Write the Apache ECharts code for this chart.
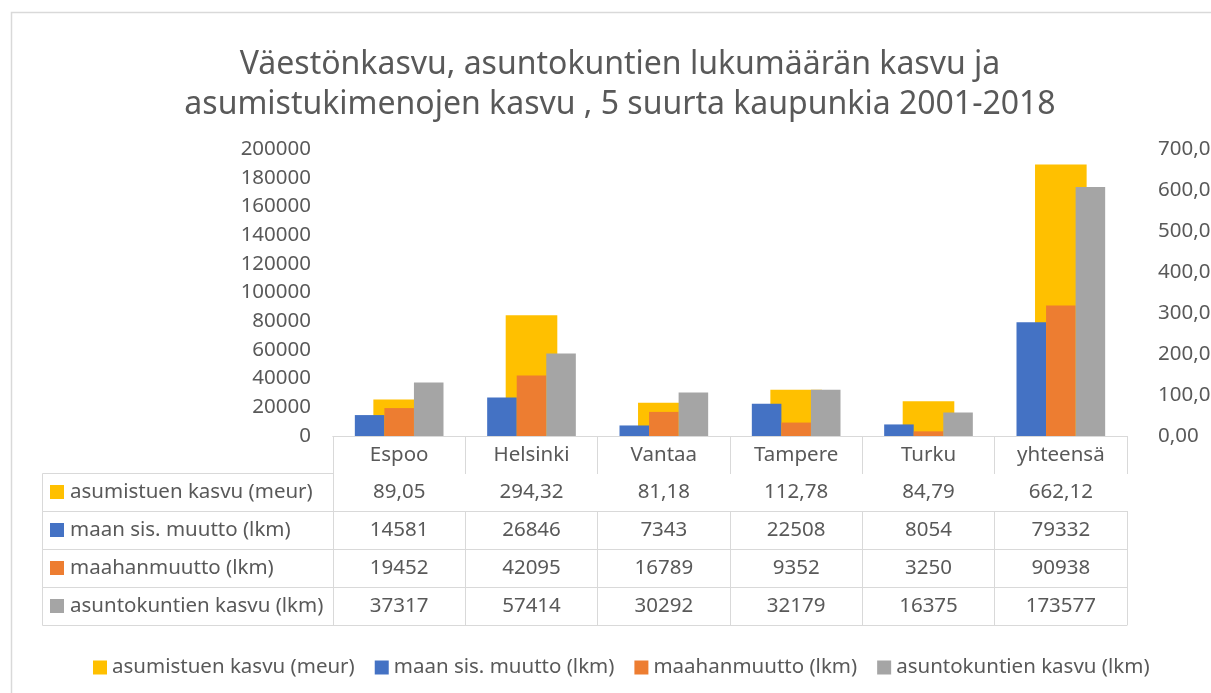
<!DOCTYPE html>
<html>
<head>
<meta charset="utf-8">
<script src="https://cdn.jsdelivr.net/npm/echarts@6/dist/echarts.min.js"></script>
<style>
  html, body { margin: 0; padding: 0; background: #fff; overflow: hidden; }
  #chart { width: 1211px; height: 693px; }
</style>
</head>
<body>
<div id="chart"></div>
<script>
const categories = ['Espoo', 'Helsinki', 'Vantaa', 'Tampere', 'Turku', 'yhteensä'];
const asumistuki = [89.05, 294.32, 81.18, 112.78, 84.79, 662.12];   // meur, right axis
const maanSisMuutto = [14581, 26846, 7343, 22508, 8054, 79332];
const maahanmuutto = [19452, 42095, 16789, 9352, 3250, 90938];
const asuntokunnat = [37317, 57414, 30292, 32179, 16375, 173577];

const seriesNames = ['asumistuen kasvu (meur)', 'maan sis. muutto (lkm)', 'maahanmuutto (lkm)', 'asuntokuntien kasvu (lkm)'];
const colors = ['#FFC000', '#4472C4', '#ED7D31', '#A5A5A5'];

const leftAxis = { min: 0, max: 200000, interval: 20000 };
const rightAxis = { min: 0, max: 700, interval: 100 };

// layout
const FONT = '"Noto Sans", "Open Sans", sans-serif';
const TXT = '#595959';
const LINE = '#d9d9d9';
const GRID = { left: 333, right: 84, top: 149, bottom: 257 };
const HEAD_H = 37;
const ROW_H = 38;
const TABLE_LEFT = 42;
const GRID_BOTTOM_Y = 693 - GRID.bottom;

const fmtDec = v => v.toFixed(2).replace('.', ',');
const fmtInt = v => String(v);

const tableRows = [
  { values: asumistuki, fmt: fmtDec },
  { values: maanSisMuutto, fmt: fmtInt },
  { values: maahanmuutto, fmt: fmtInt },
  { values: asuntokunnat, fmt: fmtInt }
];

function rowAxis(offset, tickLen, values, fmt) {
  return {
    type: 'category',
    data: categories,
    position: 'bottom',
    offset: offset,
    axisLine: { show: true, lineStyle: { color: LINE, width: 1 } },
    axisTick: { show: tickLen > 0, interval: 0, length: tickLen, lineStyle: { color: LINE, width: 1 } },
    axisLabel: {
      show: !!values,
      interval: 0,
      margin: 9,
      fontSize: 20.5,
      fontFamily: FONT,
      color: TXT,
      formatter: (v, i) => values ? fmt(values[i]) : ''
    },
    splitLine: { show: false }
  };
}

// header row (city names) + one axis per table row + closing line
const xAxes = [rowAxis(0, HEAD_H, categories, v => v)];
tableRows.forEach((r, i) => {
  xAxes.push(rowAxis(HEAD_H + ROW_H * i, ROW_H, r.values, r.fmt));
});
xAxes.push(rowAxis(HEAD_H + ROW_H * tableRows.length, 0, null, null));

// left column of the data table
const graphics = [{
  type: 'rect',
  shape: { x: 11.5, y: 12.5, width: 1400, height: 900 },
  style: { fill: 'none', stroke: LINE, lineWidth: 1.5 },
  silent: true
}];
seriesNames.forEach((name, i) => {
  const y0 = GRID_BOTTOM_Y + HEAD_H + ROW_H * i;
  graphics.push({
    type: 'rect',
    shape: { x: TABLE_LEFT + 0.5, y: y0 + 0.5, width: GRID.left - TABLE_LEFT, height: ROW_H },
    style: { fill: 'none', stroke: LINE, lineWidth: 1 },
    silent: true
  });
  graphics.push({
    type: 'rect',
    shape: { x: 50, y: y0 + ROW_H / 2 - 7, width: 14, height: 14 },
    style: { fill: colors[i] },
    silent: true
  });
  graphics.push({
    type: 'text',
    x: 70,
    y: y0 + ROW_H / 2,
    style: { text: name, fill: TXT, fontSize: 20.5, fontFamily: FONT, verticalAlign: 'middle' },
    silent: true
  });
});

const chart = echarts.init(document.getElementById('chart'));
chart.setOption({
  animation: false,
  backgroundColor: '#fff',
  title: {
    text: 'Väestönkasvu, asuntokuntien lukumäärän kasvu ja\nasumistukimenojen kasvu , 5 suurta kaupunkia 2001-2018',
    left: 615,
    top: 40,
    textAlign: 'center',
    textStyle: { fontSize: 32, fontWeight: 'normal', color: TXT, fontFamily: FONT, lineHeight: 40 }
  },
  legend: {
    data: seriesNames,
    left: 88,
    top: 652,
    icon: 'rect',
    itemWidth: 14,
    itemHeight: 14,
    itemGap: 20,
    textStyle: { fontSize: 20.5, color: TXT, fontFamily: FONT }
  },
  grid: Object.assign({ containLabel: false, outerBoundsMode: 'none' }, GRID),
  xAxis: xAxes,
  yAxis: [
    {
      type: 'value',
      min: leftAxis.min, max: leftAxis.max, interval: leftAxis.interval,
      axisLine: { show: false }, axisTick: { show: false }, splitLine: { show: false },
      axisLabel: { margin: 22, fontSize: 20.5, color: TXT, fontFamily: FONT, formatter: fmtInt }
    },
    {
      type: 'value',
      position: 'right',
      min: rightAxis.min, max: rightAxis.max, interval: rightAxis.interval,
      axisLine: { show: false }, axisTick: { show: false }, splitLine: { show: false },
      axisLabel: { margin: 31, fontSize: 20.5, color: TXT, fontFamily: FONT, formatter: fmtDec }
    }
  ],
  graphic: graphics,
  series: [
    {
      name: seriesNames[0], type: 'bar', data: asumistuki,
      xAxisIndex: 1, yAxisIndex: 1, barWidth: '39%', z: 1,
      itemStyle: { color: colors[0] }
    },
    {
      name: seriesNames[1], type: 'bar', data: maanSisMuutto,
      xAxisIndex: 0, yAxisIndex: 0, barGap: '0%', barCategoryGap: '33%', z: 3,
      itemStyle: { color: colors[1] }
    },
    {
      name: seriesNames[2], type: 'bar', data: maahanmuutto,
      xAxisIndex: 0, yAxisIndex: 0, barGap: '0%', barCategoryGap: '33%', z: 3,
      itemStyle: { color: colors[2] }
    },
    {
      name: seriesNames[3], type: 'bar', data: asuntokunnat,
      xAxisIndex: 0, yAxisIndex: 0, barGap: '0%', barCategoryGap: '33%', z: 3,
      itemStyle: { color: colors[3] }
    }
  ]
});
</script>
</body>
</html>
